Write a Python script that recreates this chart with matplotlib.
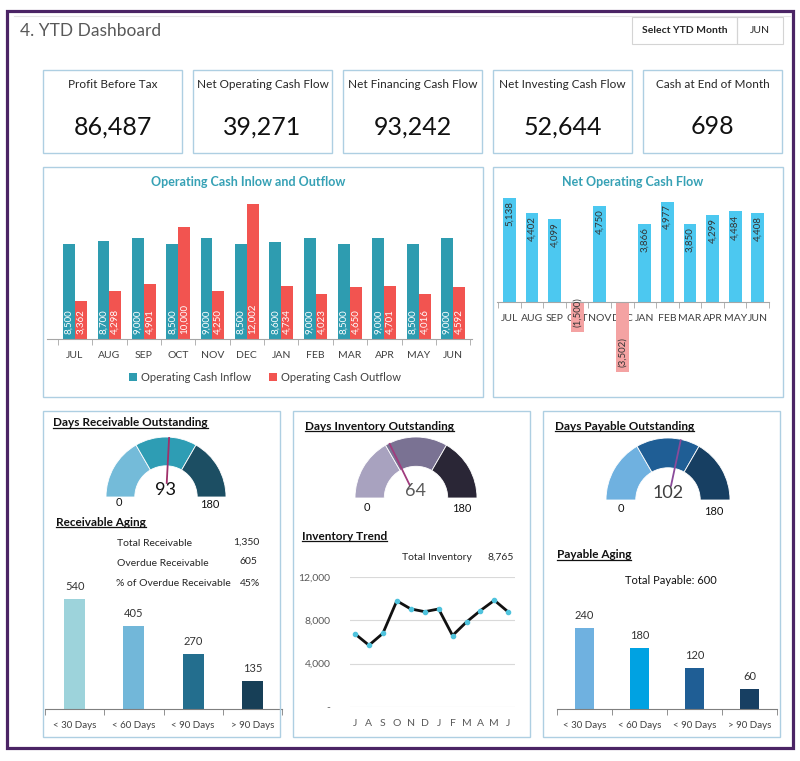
import matplotlib
matplotlib.use('Agg')
import matplotlib.pyplot as plt
from matplotlib.patches import Rectangle, Wedge
from matplotlib.lines import Line2D
import numpy as np

plt.rcParams['font.family'] = ['Lato', 'DejaVu Sans']

W, H = 800, 761

# ---------------- data ----------------
kpi_labels = ['Profit Before Tax', 'Net Operating Cash Flow', 'Net Financing Cash Flow',
              'Net Investing Cash Flow', 'Cash at End of Month']
kpi_values = [86487, 39271, 93242, 52644, 698]

months = ['JUL', 'AUG', 'SEP', 'OCT', 'NOV', 'DEC', 'JAN', 'FEB', 'MAR', 'APR', 'MAY', 'JUN']
cash_inflow = [8500, 8700, 9000, 8500, 9000, 8500, 8600, 9000, 8500, 9000, 8500, 9000]
cash_outflow = [3362, 4298, 4901, 10000, 4250, 12002, 4734, 4023, 4650, 4701, 4016, 4592]
net_cash = [5138, 4402, 4099, -1500, 4750, -3502, 3866, 4977, 3850, 4299, 4484, 4408]

gauge_segments = [60, 60, 60]
dro_value = 93
dio_value = 64
dpo_value = 102

aging_labels = ['< 30 Days', '< 60 Days', '< 90 Days', '> 90 Days']
receivable_aging = [540, 405, 270, 135]
payable_aging = [240, 180, 120, 60]
total_receivable = 1350
overdue_receivable = 605
overdue_pct = '45%'
total_payable = 600

inv_months = ['J', 'A', 'S', 'O', 'N', 'D', 'J', 'F', 'M', 'A', 'M', 'J']
inventory = [6750, 5700, 6800, 9800, 9050, 8800, 9050, 6600, 7850, 8900, 9850, 8765]
inv_ticks = [0, 4000, 8000, 12000]

# ---------------- helpers ----------------
fig = plt.figure(figsize=(W / 100, H / 100), dpi=100)
fig.patch.set_facecolor('white')

PANEL = '#AECFE2'
TXT = '#404040'


def axpx(x0, y0, x1, y1):
    return fig.add_axes([x0 / W, 1 - y1 / H, (x1 - x0) / W, (y1 - y0) / H])


def rect(x0, y0, x1, y1, ec, lw=1.0, fc='none', z=1):
    fig.add_artist(Rectangle((x0 / W, 1 - y1 / H), (x1 - x0) / W, (y1 - y0) / H,
                             transform=fig.transFigure, fc=fc, ec=ec, lw=lw, zorder=z))


def ftext(x, y, s, **kw):
    kw.setdefault('va', 'center')
    return fig.text(x / W, 1 - y / H, s, **kw)


underlined = []

# ---------------- frame & header ----------------
rect(7, 11, 793, 748, '#4B2465', lw=2.3, z=5)
fig.add_artist(Line2D([14 / W, 790 / W], [1 - 16 / H, 1 - 16 / H], transform=fig.transFigure,
                      color='#E6E6E6', lw=0.8))
ftext(20, 31, '4. YTD Dashboard', fontsize=12.5, color='#595959', ha='left')
rect(632, 17, 737, 44, '#D4D4D4', lw=0.8)
rect(737, 17, 783, 44, '#D4D4D4', lw=0.8)
ftext(684.5, 30.5, 'Select YTD Month', fontsize=7.5, fontweight='bold', color='#262626', ha='center')
ftext(760, 30.5, 'JUN', fontsize=7.5, color='#262626', ha='center')

# KPI boxes
kpi_x = [43, 193, 343, 493, 643]
for x0, lab, val in zip(kpi_x, kpi_labels, kpi_values):
    rect(x0, 70, x0 + 139, 153, PANEL, lw=1)
    ftext(x0 + 69.5, 85, lab, fontsize=8.5, color='#262626', ha='center')
    ftext(x0 + 69.5, 127, f'{val:,}', fontsize=18, color='#111111', ha='center')

# ---------------- Operating cash inflow / outflow ----------------
rect(43, 167, 483, 397, PANEL, lw=1)
ftext(248, 182, 'Operating Cash Inlow and Outflow', fontsize=9, fontweight='bold',
      color='#36A1B5', ha='center')
ax1 = axpx(47, 193, 472, 339)
x = np.arange(len(months))
bw = 0.345
b_in = ax1.bar(x - bw / 2, cash_inflow, bw, color='#2E9CB0', label='Operating Cash Inflow')
b_out = ax1.bar(x + bw / 2, cash_outflow, bw, color='#F25450', label='Operating Cash Outflow')
for xi, v in zip(x - bw / 2, cash_inflow):
    ax1.annotate(f'{v:,}', (xi, 0), xytext=(0, 5), textcoords='offset pixels', rotation=90,
                 ha='center', va='bottom', color='white', fontsize=7)
for xi, v in zip(x + bw / 2, cash_outflow):
    ax1.annotate(f'{v:,}', (xi, 0), xytext=(0, 5), textcoords='offset pixels', rotation=90,
                 ha='center', va='bottom', color='white', fontsize=7)
ax1.set_xlim(-0.815, 11.55)
ax1.set_ylim(0, 13000)
ax1.set_yticks([])
for s in ['top', 'left', 'right']:
    ax1.spines[s].set_visible(False)
ax1.spines['bottom'].set_color('#A6A6A6')
ax1.set_xticks(x)
ax1.set_xticklabels(months, fontsize=7.5, color=TXT)
ax1.set_xticks(np.arange(-0.5, 12, 1), minor=True)
ax1.tick_params(axis='x', which='major', length=0, pad=9)
ax1.tick_params(axis='x', which='minor', length=4, color='#A6A6A6')
ax1.patch.set_alpha(0)
fig.legend(handles=[b_in, b_out], loc='center', bbox_to_anchor=(265 / W, 1 - 377 / H), ncol=2,
           frameon=False, fontsize=8, handlelength=0.7, handleheight=0.7, handletextpad=0.4,
           columnspacing=1.6, labelcolor=TXT)

# ---------------- Net operating cash flow ----------------
rect(493, 167, 783, 397, PANEL, lw=1)
ftext(633, 182, 'Net Operating Cash Flow', fontsize=9, fontweight='bold', color='#36A1B5',
      ha='center')
ax2 = axpx(497, 193, 769, 380)
colors_net = ['#4CC8F0' if v >= 0 else '#F4A3A3' for v in net_cash]
ax2.bar(x, net_cash, 0.57, color=colors_net, zorder=2)
for xi, v in zip(x, net_cash):
    if v >= 0:
        ax2.annotate(f'{v:,}', (xi, v), xytext=(0, -3), textcoords='offset pixels', rotation=90,
                     ha='center', va='top', color='#333333', fontsize=7, zorder=4)
    else:
        ax2.annotate(f'({-v:,})', (xi, v), xytext=(0, 5), textcoords='offset pixels', rotation=90,
                     ha='center', va='bottom', color='#333333', fontsize=7, zorder=4)
ax2.set_xlim(-0.55, 11.38)
ax2.set_ylim(-3900, 5400)
ax2.set_yticks([])
for s in ['top', 'left', 'right']:
    ax2.spines[s].set_visible(False)
ax2.spines['bottom'].set_position(('data', 0))
ax2.spines['bottom'].set_color('#A6A6A6')
ax2.spines['bottom'].set_zorder(3)
ax2.set_xticks(x)
ax2.set_xticklabels(months, fontsize=7.5, color=TXT)
ax2.set_xticks(np.arange(-0.5, 12, 1), minor=True)
ax2.tick_params(axis='x', which='major', length=0, pad=9)
ax2.tick_params(axis='x', which='minor', length=4, color='#A6A6A6')
ax2.patch.set_alpha(0)

# ---------------- bottom panels ----------------
rect(43, 411, 280, 737, PANEL, lw=1)
rect(293, 411, 530, 737, PANEL, lw=1)
rect(543, 411, 780, 737, PANEL, lw=1)


def gauge(cx, cy, r, value, colors, needle_color, value_color, zero_xy, max_xy):
    ax = axpx(cx - 1.1 * r, cy - 1.1 * r, cx + 1.1 * r, cy + 0.3 * r)
    ax.set_xlim(-1.1, 1.1)
    ax.set_ylim(-0.3, 1.1)
    ax.set_aspect('equal')
    ax.axis('off')
    total = sum(gauge_segments)
    start = 0
    for seg, col in zip(gauge_segments, colors):
        t2 = 180 - start * 180 / total
        t1 = 180 - (start + seg) * 180 / total
        ax.add_patch(Wedge((0, 0), 1, t1, t2, width=0.48, fc=col, ec='white', lw=0.6))
        start += seg
    ang = np.deg2rad(180 - value * 180 / total)
    ax.plot([0.22 * np.cos(ang), np.cos(ang)], [0.22 * np.sin(ang), np.sin(ang)],
            color=needle_color, lw=1.3, solid_capstyle='butt')
    ax.text(0, 0.12, f'{value}', ha='center', va='center', fontsize=13, color=value_color)
    ax.text(zero_xy[0], zero_xy[1], '0', ha='center', va='center', fontsize=8, color='#111111')
    ax.text(max_xy[0], max_xy[1], f'{total}', ha='center', va='center', fontsize=8,
            color='#111111')


gauge(166, 497, 60, dro_value, ['#74BBD9', '#2E9DB4', '#1C4E63'], '#A0306A', '#111111',
      (-0.78, -0.1), (0.73, -0.12))
gauge(416, 498, 61, dio_value, ['#A8A2BF', '#7A7293', '#2A2636'], '#A13C7E', '#595959',
      (-0.8, -0.15), (0.75, -0.17))
gauge(668, 500, 62, dpo_value, ['#6FB1E0', '#1F5E95', '#173F62'], '#8A4A9A', '#404040',
      (-0.76, -0.14), (0.73, -0.18))

underlined.append(ftext(53, 423, 'Days Receivable Outstanding', fontsize=8.5, fontweight='bold',
                        color='#111111', ha='left'))
underlined.append(ftext(305, 426, 'Days Inventory Outstanding', fontsize=8.5, fontweight='bold',
                        color='#111111', ha='left'))
underlined.append(ftext(555, 426, 'Days Payable Outstanding', fontsize=8.5, fontweight='bold',
                        color='#111111', ha='left'))
underlined.append(ftext(56, 522, 'Receivable Aging', fontsize=8.5, fontweight='bold',
                        color='#111111', ha='left'))
underlined.append(ftext(302, 536, 'Inventory Trend', fontsize=8.5, fontweight='bold',
                        color='#111111', ha='left'))
underlined.append(ftext(557, 555, 'Payable Aging', fontsize=8.5, fontweight='bold',
                        color='#111111', ha='left'))

# receivable summary
ftext(117, 544, 'Total Receivable', fontsize=7.5, color='#262626', ha='left')
ftext(259, 542, f'{total_receivable:,}', fontsize=7.5, color='#262626', ha='right')
ftext(117, 564, 'Overdue Receivable', fontsize=7.5, color='#262626', ha='left')
ftext(257, 562, f'{overdue_receivable:,}', fontsize=7.5, color='#262626', ha='right')
ftext(116, 584, '% of Overdue Receivable', fontsize=7.5, color='#262626', ha='left')
ftext(260, 584, overdue_pct, fontsize=7.5, color='#262626', ha='right')


def aging_bars(x0, x1, y_top, y_base, values, colors, px_per_unit, width):
    ax = axpx(x0, y_top, x1, y_base)
    xi = np.arange(len(values))
    bars = ax.bar(xi, values, width, color=colors)
    ax.bar_label(bars, labels=[f'{v:,}' for v in values], padding=5, fontsize=8, color='#333333')
    ax.set_xlim(-0.5, len(values) - 0.5)
    ax.set_ylim(0, (y_base - y_top) / px_per_unit)
    ax.set_yticks([])
    for s in ['top', 'left', 'right']:
        ax.spines[s].set_visible(False)
    ax.spines['bottom'].set_color('#7F7F7F')
    ax.set_xticks(xi)
    ax.set_xticklabels(aging_labels, fontsize=7, color=TXT)
    ax.set_xticks(np.arange(-0.5, len(values), 1), minor=True)
    ax.tick_params(axis='x', which='major', length=0, pad=9)
    ax.tick_params(axis='x', which='minor', length=4, color='#7F7F7F')
    ax.patch.set_alpha(0)
    return ax


aging_bars(45, 282, 575, 709, receivable_aging, ['#9DD3DB', '#72B7D9', '#236E8E', '#173F57'],
           110.3 / 540, 0.355)
ftext(671, 580, f'Total Payable: {total_payable:,}', fontsize=8, color='#111111', ha='center')
aging_bars(557, 777, 600, 709, payable_aging, ['#6FB1E0', '#00A2E2', '#1F5E95', '#173F62'],
           81.3 / 240, 0.33)

# inventory trend
ftext(402, 557, 'Total Inventory', fontsize=7.5, color='#262626', ha='left')
ftext(514, 557, f'{inventory[-1]:,}', fontsize=7.5, color='#262626', ha='right')
ax3 = axpx(350, 577, 515, 707)
xi = np.arange(len(inventory))
ax3.plot(xi, inventory, color='#111111', lw=2, marker='o', markersize=3,
         markerfacecolor='#4FC3DD', markeredgecolor='#4FC3DD', zorder=3)
ax3.set_xlim(-0.36, 11.48)
ax3.set_ylim(0, 12000)
ax3.set_yticks(inv_ticks)
ax3.set_yticklabels(['-' if t == 0 else f'{t:,}' for t in inv_ticks], fontsize=7.5,
                    color='#595959')
ax3.set_xticks(xi)
ax3.set_xticklabels(inv_months, fontsize=7.5, color='#595959')
ax3.grid(axis='y', color='#D9D9D9', lw=0.8)
ax3.set_axisbelow(True)
for s in ax3.spines.values():
    s.set_visible(False)
ax3.tick_params(length=0)
ax3.tick_params(axis='x', pad=9)
ax3.tick_params(axis='y', pad=14)
ax3.patch.set_alpha(0)

# underline titles
fig.canvas.draw()
rend = fig.canvas.get_renderer()
for t in underlined:
    bb = t.get_window_extent(rend)
    yl = (bb.y0 + 1.0) / H
    fig.add_artist(Line2D([bb.x0 / W, bb.x1 / W], [yl, yl], transform=fig.transFigure,
                          color=t.get_color(), lw=0.9))

fig.savefig('out.png', dpi=100, facecolor='white')
